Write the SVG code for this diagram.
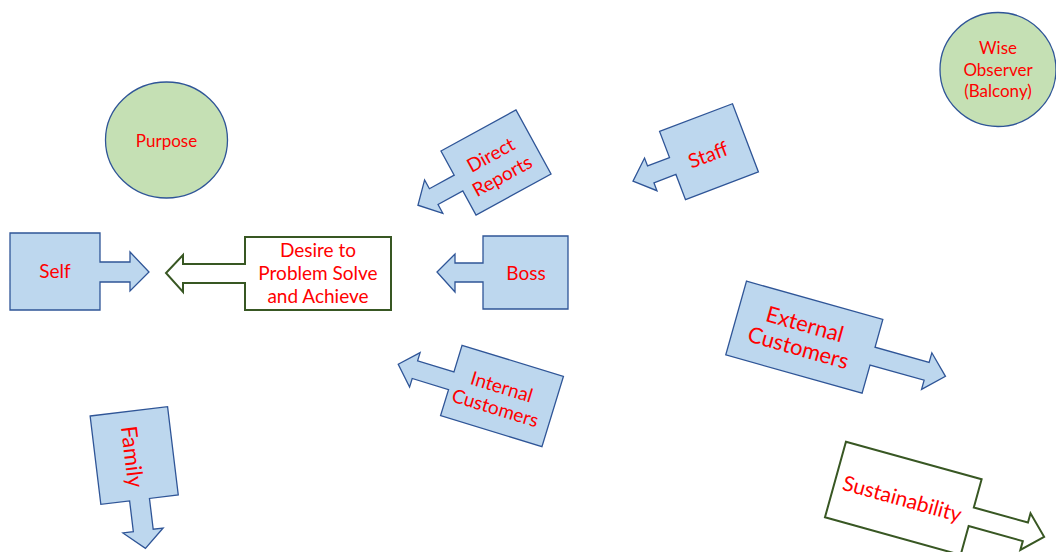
<svg xmlns="http://www.w3.org/2000/svg" width="1056" height="552" viewBox="0 0 1056 552">
<style>
.b{fill:#BDD7EE;stroke:#2F5597;stroke-width:1.3;stroke-linejoin:miter}
.w{fill:#FFFFFF;stroke:#385723;stroke-width:2}
.c{fill:#C5E0B4;stroke:#2F5597;stroke-width:1.3}
text{font-family:Lato,"Liberation Sans",sans-serif;fill:#FF0000;text-anchor:middle}
.s17{font-size:17px}.s19{font-size:19px}.s20{font-size:20px}.s21{font-size:21px}.s22{font-size:22px}
</style>
<rect width="1056" height="552" fill="#FFFFFF"/>
<g id="connectors"></g>
<g id="purpose">
<ellipse class="c" cx="166.5" cy="140" rx="61" ry="58"/>
<text class="s17" x="166.5" y="147">Purpose</text>
</g>
<g id="wise-observer">
<ellipse class="c" cx="998" cy="69.5" rx="58" ry="57"/>
<text class="s17" x="998" y="54">Wise</text>
<text class="s17" x="998" y="75.5">Observer</text>
<text class="s17" x="998" y="96.5">(Balcony)</text>
</g>
<g id="self">
<path class="b" d="M10,233 H100 V262 H130 V252 L149,272 L130,291 V282 H100 V310 H10 Z"/>
<text class="s19" x="55" y="278">Self</text>
</g>
<g id="desire">
<path class="w" d="M391,237 V310 H245 V283 H183 V292 L166,273 L183,255 V264 H245 V237 Z"/>
<text class="s19" x="318" y="257">Desire to</text>
<text class="s19" x="318" y="280">Problem Solve</text>
<text class="s19" x="318" y="303">and Achieve</text>
</g>
<g id="boss">
<path class="b" d="M483,236 H568 V309 H483 V282 H455 V292 L437,272 L455,254 V263 H483 Z"/>
<text class="s19" x="526" y="280">Boss</text>
</g>
<g id="direct-reports" transform="translate(496,162.5) rotate(-28.7)">
<path class="b" d="M-42.75,-36.5 H42.75 V36.5 H-42.75 V9 H-71 V19 L-89,0 L-71,-19 V-9 H-42.75 Z"/>
<text class="s19" x="-1" y="-2.5">Direct</text>
<text class="s19" x="-1" y="21.5">Reports</text>
</g>
<g id="staff" transform="translate(709,151.7) rotate(-20.8)">
<path class="b" d="M-39,-36.5 H39 V36.5 H-39 V9.5 H-62.5 V18 L-81.5,0.5 L-62.5,-17 V-8.5 H-39 Z"/>
<text class="s20" x="-2" y="9.7">Staff</text>
</g>
<g id="internal-customers" transform="translate(502,396) rotate(17)">
<path class="b" d="M-53,-36.75 H53 V36.75 H-53 V9.5 H-91 V18.5 L-108.5,0 L-91,-17.5 V-9 H-53 Z"/>
<text class="s19" x="-3" y="-2">Internal</text>
<text class="s19" x="-3" y="20">Customers</text>
</g>
<g id="external-customers" transform="translate(804.3,337.2) rotate(15.7)">
<path class="b" d="M-70.8,-38.3 H70.8 V-9.5 H127 V-19.5 L146.5,-0.5 L127,18.5 V9 H70.8 V38.3 H-70.8 Z"/>
<text class="s22" x="-3" y="-5">External</text>
<text class="s22" x="-3" y="19.5">Customers</text>
</g>
<g id="family" transform="translate(134.2,455.5) rotate(-6.9)">
<path class="b" d="M-39,-44.5 H39 V44.5 H10 V75.5 H20 L0,93.5 L-20.5,75.5 H-10 V44.5 H-39 Z"/>
<text class="s22" transform="rotate(90)" x="1" y="9.7">Family</text>
</g>
<g id="sustainability" transform="translate(903.3,498.3) rotate(15.5)">
<path class="w" d="M-70.4,-39.25 H70.4 V-10 H126.6 V-19.5 L146,-0.5 L126.6,18.5 V9.3 H70.4 V39.25 H-70.4 Z"/>
<text class="s21" x="-1" y="8">Sustainability</text>
</g>
</svg>
